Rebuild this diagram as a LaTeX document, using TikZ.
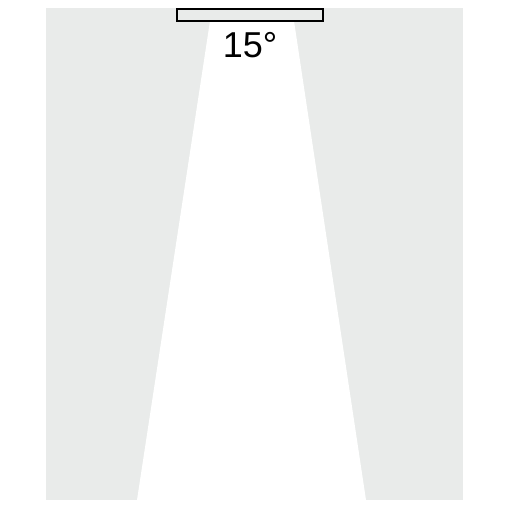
\documentclass[tikz,border=0pt]{standalone}
\usepackage{fontspec}
\setmainfont{Liberation Sans}
\definecolor{wallgray}{RGB}{233,235,234}
\begin{document}
\begin{tikzpicture}[x=1pt,y=-1pt,
  lampbox/.style={draw=black,line width=1.3pt,fill=wallgray},
  anglelabel/.style={font=\fontsize{36}{36}\selectfont,text=black,inner sep=0pt}]
\useasboundingbox (0,0) rectangle (510,510);
\fill[white] (0,0) rectangle (510,510);
\fill[wallgray] (46,8) rectangle (463,500);
\fill[white] (210,21) -- (294,21) -- (366,500) -- (137,500) -- cycle;
\node[lampbox,minimum width=146pt,minimum height=12pt,inner sep=0pt] (lamp) at (250,15) {};
\node[anglelabel] (angle) at (250,45) {15°};
\end{tikzpicture}
\end{document}
